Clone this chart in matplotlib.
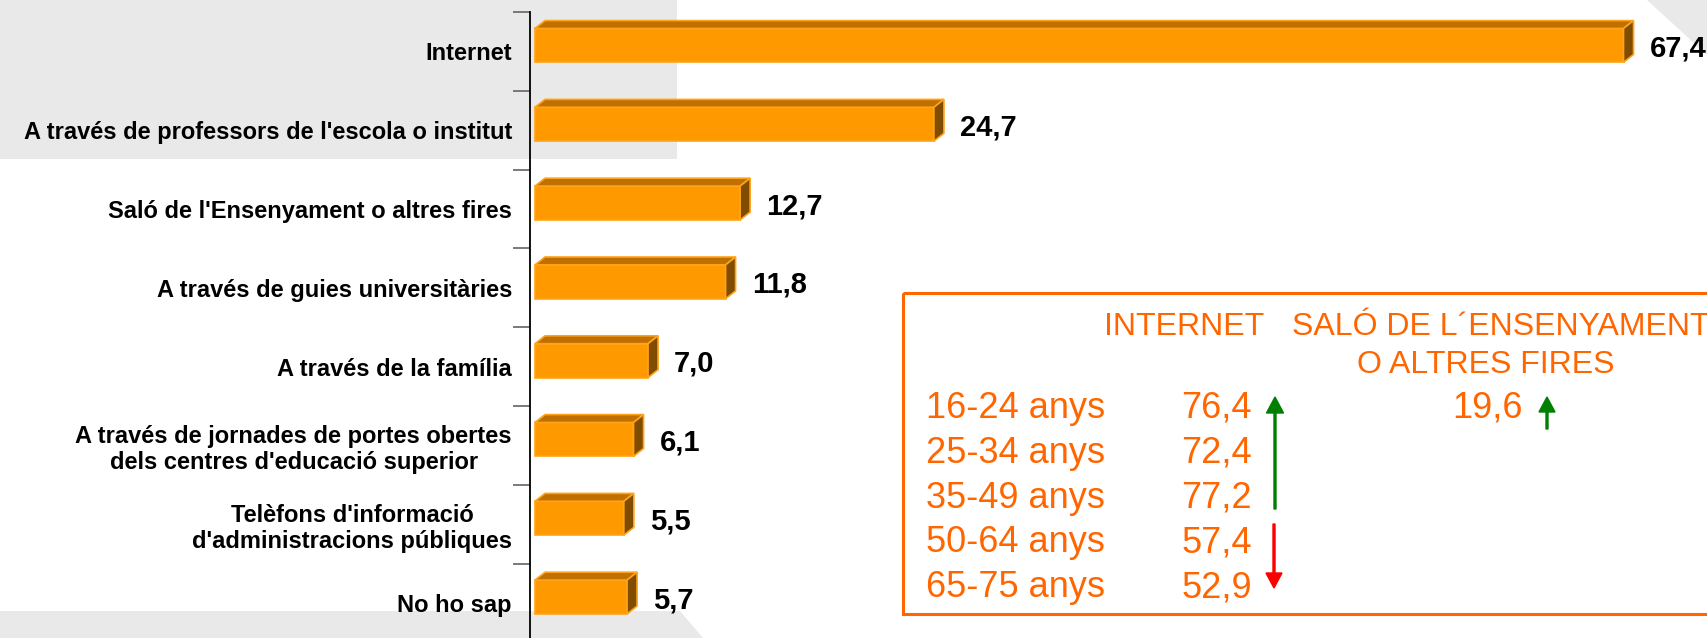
import matplotlib
matplotlib.use('Agg')
import matplotlib.pyplot as plt
from matplotlib.patches import Polygon, Rectangle

plt.rcParams['font.family'] = ['Liberation Sans', 'DejaVu Sans']

categories = ["Internet",
              "A través de professors de l'escola o institut",
              "Saló de l'Ensenyament o altres fires",
              "A través de guies universitàries",
              "A través de la família",
              "A través de jornades de portes obertes\ndels centres d'educació superior",
              "Telèfons d'informació\nd'administracions públiques",
              "No ho sap"]
values = [67.4, 24.7, 12.7, 11.8, 7.0, 6.1, 5.5, 5.7]

ages = ['16-24 anys', '25-34 anys', '35-49 anys', '50-64 anys', '65-75 anys']
internet_age = [76.4, 72.4, 77.2, 57.4, 52.9]
salo_age = [19.6]
headers = ['INTERNET', 'SALÓ DE L\u00b4ENSENYAMENT', 'O ALTRES FIRES']

W, H = 1707, 638
fig = plt.figure(figsize=(W / 100, H / 100), dpi=100)

# background layer in pixel coordinates
bg = fig.add_axes([0, 0, 1, 1], zorder=0)
bg.set_xlim(0, W)
bg.set_ylim(H, 0)
bg.axis('off')
gray = '#e9e9e9'
bg.add_patch(Rectangle((0, 0), 677, 159, color=gray, lw=0))
bg.add_patch(Polygon([(0, 611), (680, 611), (703, H), (0, H)], color=gray, lw=0))
bg.add_patch(Polygon([(1647, 0), (W, 0), (W, 55)], color=gray, lw=0))

# bar chart
ax = fig.add_axes([530 / W, (H - 642.4) / H, 1177 / W, 630.4 / H], zorder=1)
ax.patch.set_alpha(0)
ax.set_xlim(-5 / 16.15, (W - 535) / 16.15)
ax.set_ylim(len(categories) - 0.5, -0.5)

front = '#ff9900'
top = '#c07000'
side = '#804c00'
edge = '#ffa31a'
bh = 0.43
off = 0.076
dx, dy = 0.62, 0.10
for i, v in enumerate(values):
    yc = i - off
    yt, yb = yc - bh / 2, yc + bh / 2
    ax.barh(yc, v, height=bh, color=front, edgecolor=edge, linewidth=1.2, zorder=3)
    ax.add_patch(Polygon([(0, yt), (dx, yt - dy), (v + dx, yt - dy), (v, yt)],
                         closed=True, facecolor=top, edgecolor=edge, linewidth=1.2, zorder=3))
    ax.add_patch(Polygon([(v, yt), (v + dx, yt - dy), (v + dx, yb - dy), (v, yb)],
                         closed=True, facecolor=side, edgecolor=edge, linewidth=1.2, zorder=3))
    ax.text(v + dx + 1.0, yc, ('%.1f' % v).replace('.', ','), ha='left', va='center_baseline',
            fontsize=21, fontweight='bold', color='black')

ax.set_yticks(range(len(categories)))
ax.set_yticklabels(categories, fontsize=17, fontweight='bold', multialignment='center')
ax.set_yticks([i - 0.5 for i in range(len(categories) + 1)], minor=True)
ax.tick_params(axis='y', which='major', length=0, pad=13)
ax.tick_params(axis='y', which='minor', length=12, width=1.3, color='#707070', direction='out')
ax.set_xticks([])
for s in ['top', 'right', 'bottom']:
    ax.spines[s].set_visible(False)
ax.spines['left'].set_linewidth(1.3)
ax.spines['left'].set_color('black')

# inset box with age breakdown
ov = fig.add_axes([0, 0, 1, 1], zorder=2)
ov.set_xlim(0, W)
ov.set_ylim(H, 0)
ov.axis('off')
orange = '#ff6600'
ov.add_patch(Rectangle((903, 293), 900, 321, fill=False, edgecolor=orange, linewidth=2.2))
ov.text(1104, 335, headers[0], ha='left', va='baseline', fontsize=23, color=orange)
ov.text(1292, 335, headers[1], ha='left', va='baseline', fontsize=23, color=orange)
ov.text(1486, 373, headers[2], ha='center', va='baseline', fontsize=23, color=orange)
for i, (a, v) in enumerate(zip(ages, internet_age)):
    yb = 418 + 44.75 * i
    ov.text(926, yb, a, ha='left', va='baseline', fontsize=26, color=orange)
    ov.text(1252, yb, ('%.1f' % v).replace('.', ','), ha='right', va='baseline',
            fontsize=26, color=orange)
ov.text(1523, 418, ('%.1f' % salo_age[0]).replace('.', ','), ha='right', va='baseline',
        fontsize=26, color=orange)

ov.arrow(1275, 509, 0, -112, width=2, head_width=17, head_length=16,
         length_includes_head=True, color='#008000')
ov.arrow(1274, 524, 0, 64, width=2, head_width=16, head_length=15,
         length_includes_head=True, color='#ff0000')
ov.arrow(1547, 429, 0, -32, width=2, head_width=16, head_length=15,
         length_includes_head=True, color='#008000')

fig.savefig('out.png', dpi=100)
